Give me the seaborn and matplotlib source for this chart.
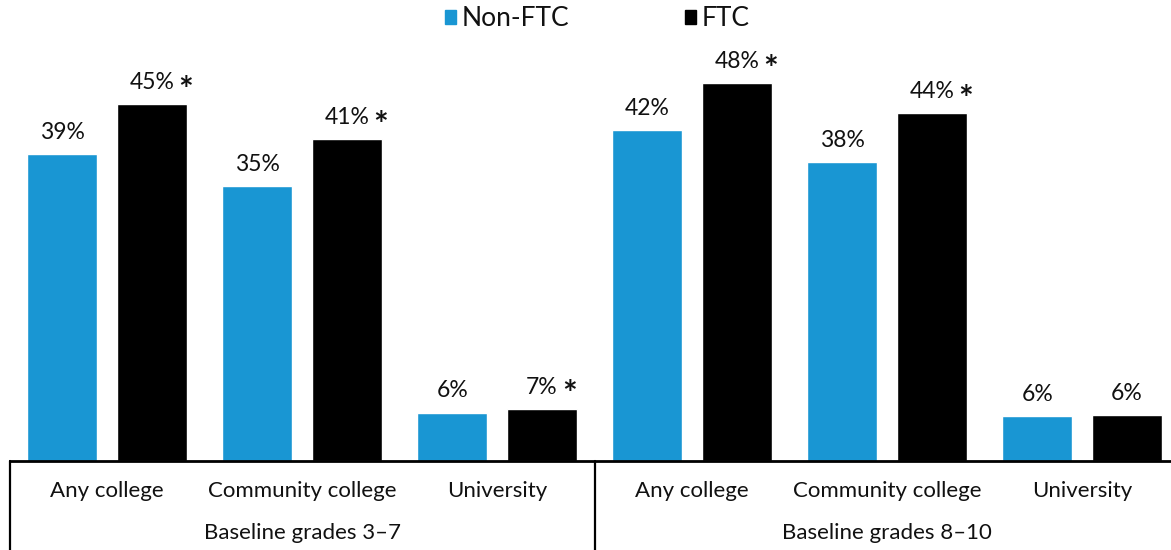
import matplotlib
matplotlib.use("Agg")
import matplotlib.pyplot as plt
from matplotlib.patches import Patch
import pandas as pd
import seaborn as sns

# chart data
categories = ["Any college", "Community college", "University"]
groups = ["Baseline grades 3\u20137", "Baseline grades 8\u201310"]
series = ["Non-FTC", "FTC"]
non_ftc = [38.7, 34.6, 6.1, 41.7, 37.7, 5.7]
ftc = [45.0, 40.6, 6.6, 47.6, 43.8, 5.8]
ftc_sig = [True, True, True, True, True, False]

BLUE = "#1996D3"
TEXT = "#111111"

sns.set_theme(style="white")
plt.rcParams["font.family"] = ["Lato", "DejaVu Sans"]

slots = list(range(len(non_ftc)))
df = pd.DataFrame({
    "slot": slots * 2,
    "value": non_ftc + ftc,
    "series": [series[0]] * len(non_ftc) + [series[1]] * len(ftc),
})

fig = plt.figure(figsize=(11.71, 5.5), dpi=100)
W, H = 1171, 550
ax = fig.add_axes([9.5 / W, 89 / H, 1170 / W, 461 / H])

sns.barplot(data=df, x="slot", y="value", hue="series", hue_order=series,
            palette=[BLUE, "black"], width=0.92, gap=0.22, saturation=1,
            legend=False, ax=ax)

ax.set_xlim(-0.5, 5.5)
ax.set_ylim(0, 58.1)
ax.set_xlabel("")
ax.set_ylabel("")
ax.set_xticks([])
ax.set_yticks([])
for side in ["left", "right", "top"]:
    ax.spines[side].set_visible(False)
ax.spines["bottom"].set_color("black")
ax.spines["bottom"].set_linewidth(2)

# value labels
for i, cont in enumerate(ax.containers):
    for j, bar in enumerate(cont):
        x = bar.get_x() + bar.get_width() / 2
        y = bar.get_height()
        txt = ax.annotate(f"{y:.0f}%", (x, y), xytext=(0, 8), textcoords="offset points",
                          ha="center", va="bottom", fontsize=16.5, color=TEXT)
        if i == 1 and ftc_sig[j]:
            ax.annotate("*", xy=(1, 0.5), xycoords=txt, xytext=(3, -6),
                        textcoords="offset points", ha="left", va="center",
                        fontsize=25, fontweight="bold", color=TEXT)

# table below the axis
trans = ax.get_xaxis_transform()
for xv in [-0.5, 2.5, 5.5]:
    ax.plot([xv, xv], [0, -0.25], transform=trans, color="black", lw=1.6,
            clip_on=False)
for k, s in enumerate(slots):
    ax.text(s, -30 / 461, categories[k % 3], transform=trans, ha="center",
            va="center", fontsize=16, color=TEXT)
for g, name in enumerate(groups):
    ax.text(g * 3 + 1, -72 / 461, name, transform=trans, ha="center",
            va="center", fontsize=16, color=TEXT)

# legend
handles = [Patch(color=BLUE, label=series[0]), Patch(color="black", label=series[1])]
fig.legend(handles=handles, loc="center", bbox_to_anchor=(597 / W, 1 - 19 / H),
           ncol=2, frameon=False, fontsize=19, handlelength=0.42, handleheight=0.42,
           handletextpad=0.2, columnspacing=4.4, labelcolor=TEXT)

fig.savefig("out.png", dpi=100)
